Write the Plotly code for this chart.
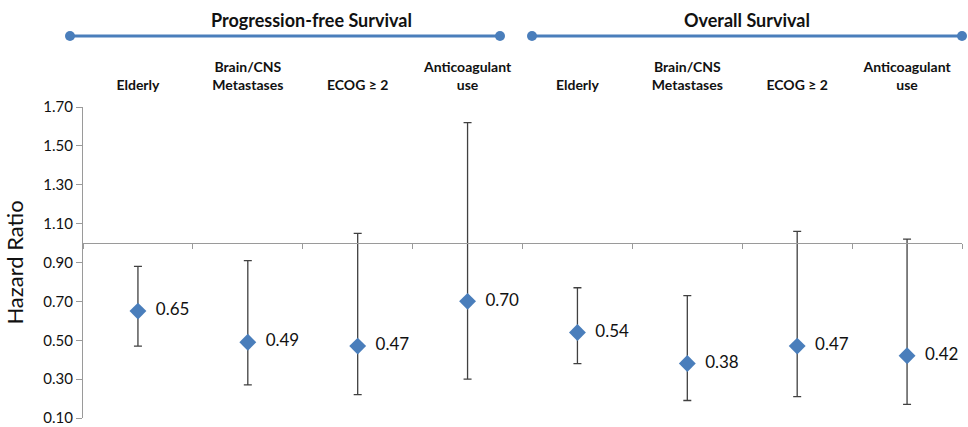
import plotly.graph_objects as go

groups = ["Progression-free Survival", "Overall Survival"]
categories = ["Elderly", "Brain/CNS<br>Metastases", "ECOG ≥ 2", "Anticoagulant<br>use",
              "Elderly", "Brain/CNS<br>Metastases", "ECOG ≥ 2", "Anticoagulant<br>use"]
hazard_ratio = [0.65, 0.49, 0.47, 0.70, 0.54, 0.38, 0.47, 0.42]
ci_upper = [0.88, 0.91, 1.05, 1.62, 0.77, 0.73, 1.06, 1.02]
ci_lower = [0.47, 0.27, 0.22, 0.30, 0.38, 0.19, 0.21, 0.17]
y_ticks = [0.10, 0.30, 0.50, 0.70, 0.90, 1.10, 1.30, 1.50, 1.70]

FONT = "Lato"
BLUE = "#4A7EBB"
xpos = [i + 0.5 for i in range(len(categories))]

fig = go.Figure()
fig.add_trace(go.Scatter(
    x=xpos, y=hazard_ratio, mode="markers+text",
    marker=dict(symbol="diamond", size=13, color=BLUE),
    text=[f"\u00a0\u00a0{v:.2f}" for v in hazard_ratio], textposition="middle right",
    textfont=dict(family=FONT, size=17, color="#111111"),
    error_y=dict(type="data", symmetric=False,
                 array=[u - v for u, v in zip(ci_upper, hazard_ratio)],
                 arrayminus=[v - l for v, l in zip(hazard_ratio, ci_lower)],
                 color="#404040", thickness=1.3, width=4),
    cliponaxis=False, showlegend=False,
))
# invisible trace to activate the crossing axis at HR = 1
fig.add_trace(go.Scatter(x=[0, len(categories)], y=[1, 1], xaxis="x2", mode="lines",
                         line=dict(width=0), hoverinfo="skip", showlegend=False))

ymin, ymax = y_ticks[0], y_ticks[-1]
eps = 1e-6
cross_pos = (1.0 - ymin) / (ymax - ymin)

TOP, BOT = 107, 9
H = 427
fig.update_layout(
    width=968, height=H,
    margin=dict(l=83, r=6, t=TOP, b=BOT),
    paper_bgcolor="white", plot_bgcolor="white",
    xaxis=dict(range=[0, len(categories)], side="top", tickvals=xpos, ticktext=categories,
               showline=False, showgrid=False, zeroline=False, ticks="", automargin=False,
               tickfont=dict(family=FONT, size=14, color="#111111", weight="bold"),
               ticklabelstandoff=13),
    xaxis2=dict(range=[0, len(categories)], overlaying="x", anchor="free", position=cross_pos,
                side="bottom", showline=True, linecolor="#9A9A9A", linewidth=1.2,
                tickvals=list(range(len(categories) + 1)), ticks="outside", ticklen=5,
                tickcolor="#9A9A9A", showticklabels=False, showgrid=False, zeroline=False,
                automargin=False),
    yaxis=dict(range=[ymin - eps, ymax + eps], tickvals=y_ticks,
               ticktext=[f"{t:.2f}" for t in y_ticks], ticklabeloverflow="allow",
               showline=True, linecolor="#9A9A9A", linewidth=1.2, ticks="outside", ticklen=6,
               tickcolor="#9A9A9A", showgrid=False, zeroline=False, automargin=False,
               tickfont=dict(family=FONT, size=15, color="#111111"),
               title=dict(text="Hazard Ratio", font=dict(family=FONT, size=22, color="#111111"),
                          standoff=13)),
)

# group headers with connector lines (pixel rows converted to paper coords)
plot_h = H - TOP - BOT
spans = [(-0.0148, 0.4744), (0.5108, 1.0)]
title_x = [0.2594, 0.7554]
line_y = (H - BOT - 36) / plot_h
title_y = (H - BOT - 20) / plot_h
for name, (x0, x1), tx in zip(groups, spans, title_x):
    fig.add_shape(type="line", xref="paper", yref="paper", x0=x0, x1=x1, y0=line_y, y1=line_y,
                  line=dict(color=BLUE, width=3))
    for xe in (x0, x1):
        fig.add_shape(type="circle", xref="paper", yref="paper", xsizemode="pixel",
                      ysizemode="pixel", xanchor=xe, yanchor=line_y, x0=-5, x1=5, y0=-5, y1=5,
                      fillcolor=BLUE, line=dict(color=BLUE, width=0))
    fig.add_annotation(xref="paper", yref="paper", x=tx, y=title_y,
                       xanchor="center", yanchor="middle",
                       text=f"<b>{name}</b>", showarrow=False,
                       font=dict(family=FONT, size=18, color="#111111"))

fig.write_html("out.html", config={"displayModeBar": False},
               post_script="document.body.style.margin='0';document.body.style.overflow='hidden';")
